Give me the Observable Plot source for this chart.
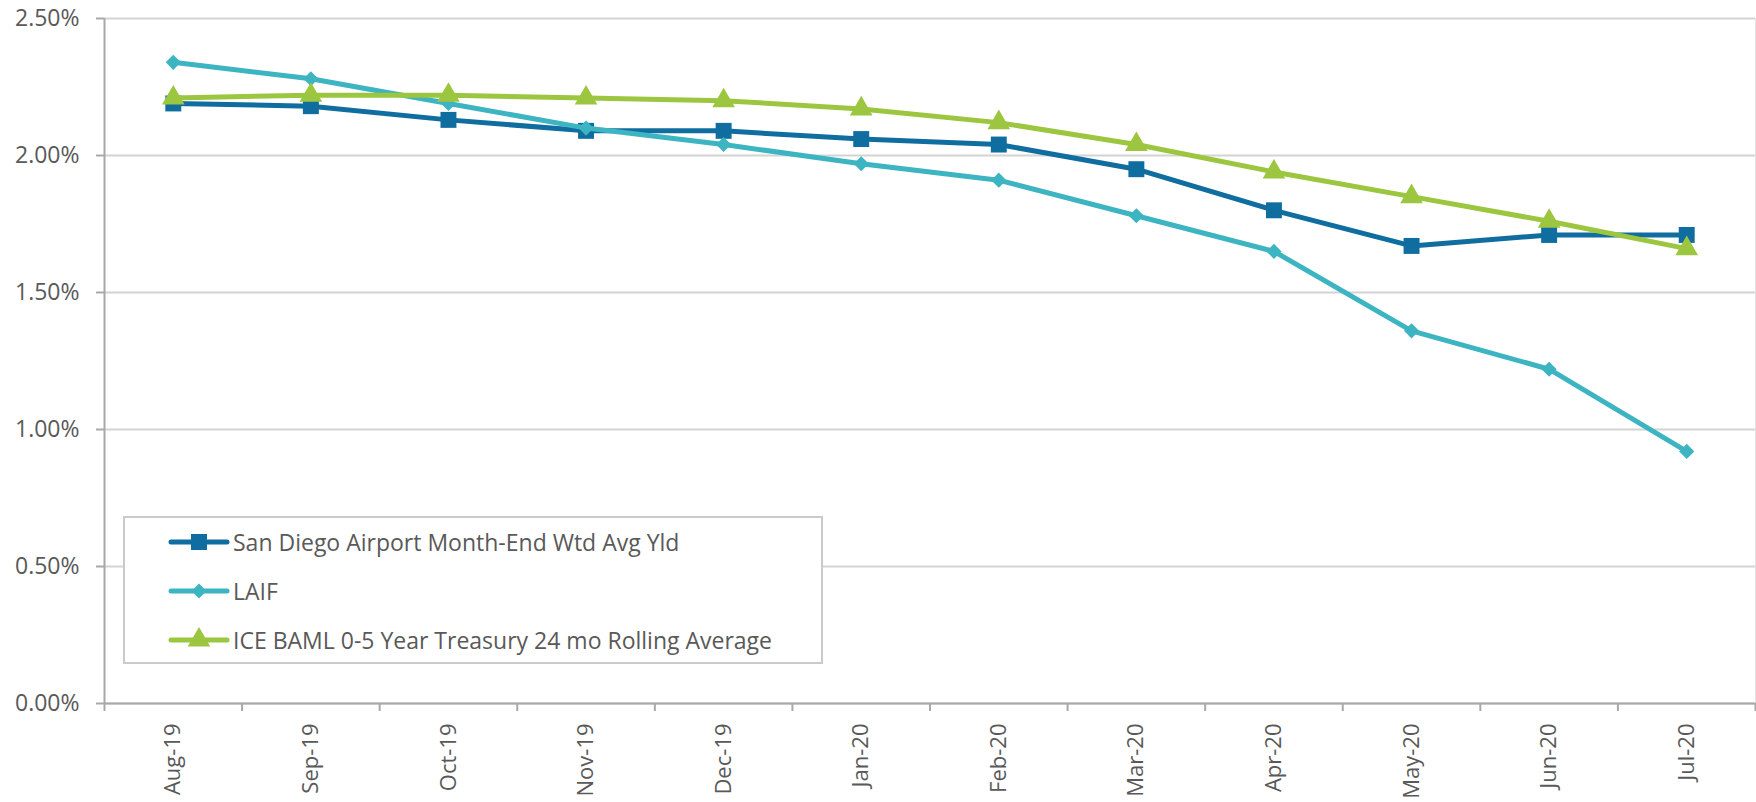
<!DOCTYPE html>
<html><head><meta charset="utf-8">
<script src="https://cdn.jsdelivr.net/npm/d3@7"></script>
<script src="https://cdn.jsdelivr.net/npm/@observablehq/plot@0.6"></script>
<style>
body{margin:0;background:#fff;}
#wrap{position:relative;width:1756px;height:802px;font-family:"Open Sans",sans-serif;}
#legend{position:absolute;left:123px;top:516px;width:700px;height:148px;box-sizing:border-box;border:2px solid #cacaca;background:#fff;}
.row{position:absolute;left:0;height:48px;display:flex;align-items:center;}
.row svg{margin-left:43px;display:block;}
.row span{font-size:23px;color:#595959;margin-left:3px;white-space:nowrap;line-height:1;}
</style></head><body><div id="wrap"></div>
<script>
const categories = ["Aug-19","Sep-19","Oct-19","Nov-19","Dec-19","Jan-20","Feb-20","Mar-20","Apr-20","May-20","Jun-20","Jul-20"];
const sanDiego = [2.19, 2.18, 2.13, 2.09, 2.09, 2.06, 2.04, 1.95, 1.80, 1.67, 1.71, 1.71];
const laif     = [2.34, 2.28, 2.19, 2.10, 2.04, 1.97, 1.91, 1.78, 1.65, 1.36, 1.22, 0.92];
const ice      = [2.21, 2.22, 2.22, 2.21, 2.20, 2.17, 2.12, 2.04, 1.94, 1.85, 1.76, 1.66];
const seriesNames = ["San Diego Airport Month-End Wtd Avg Yld", "LAIF", "ICE BAML 0-5 Year Treasury 24 mo Rolling Average"];
const seriesColors = ["#0f6e9f", "#3db4c1", "#9cc63f"];
const seriesSymbols = ["square", "diamond2", "triangle"];
const symbolR = [9, 6.8, 8.4];
const yTicks = [0, 0.5, 1.0, 1.5, 2.0, 2.5];

const seriesValues = [sanDiego, laif, ice];
const indices = categories.map((c, i) => i);
const boundaries = d3.range(categories.length + 1).map(i => i - 0.5);

const marks = [
  Plot.gridY(yTicks, {stroke: "#d3d3d3", strokeOpacity: 1, strokeWidth: 2}),
  Plot.ruleX([categories.length - 0.5], {stroke: "#e3e3e3", strokeWidth: 1}),
  Plot.ruleX([-0.5], {stroke: "#a8a8a8", strokeWidth: 2}),
  Plot.ruleY([0], {stroke: "#a8a8a8", strokeWidth: 2}),
  Plot.axisY(yTicks, {tickFormat: d => d.toFixed(2) + "%", tickSize: 8, tickPadding: 17, fontSize: 23, fill: "#595959", stroke: "#a8a8a8", strokeWidth: 2, label: null}),
  Plot.axisX(boundaries, {tickSize: 8, tickFormat: () => "", stroke: "#a8a8a8", strokeWidth: 2, label: null}),
  Plot.axisX(indices, {tickSize: 0, tickPadding: 20, tickRotate: -90, tickFormat: i => categories[i], fontSize: 22, fill: "#595959", label: null})
];
seriesValues.forEach((vals, s) => {
  const recs = vals.map((v, i) => ({i, v}));
  marks.push(Plot.line(recs, {x: "i", y: "v", stroke: seriesColors[s], strokeWidth: 5, strokeLinecap: "round", strokeLinejoin: "round"}));
  marks.push(Plot.dot(recs, {x: "i", y: "v", symbol: () => seriesSymbols[s], r: symbolR[s], fill: seriesColors[s], stroke: "none"}));
});

const chart = Plot.plot({
  width: 1756, height: 802,
  marginLeft: 104, marginRight: 1, marginTop: 18, marginBottom: 99,
  style: {fontFamily: "'Open Sans', sans-serif", background: "#fff", overflow: "visible"},
  x: {type: "linear", domain: [-0.5, categories.length - 0.5]},
  y: {domain: [0, 2.5]},
  symbol: {type: "identity"},
  marks
});
const wrap = document.getElementById("wrap");
wrap.appendChild(chart);

// legend
const legend = document.createElement("div");
legend.id = "legend";
const symPath = {
  square: d3.symbol(d3.symbolSquare, 256)(),
  diamond2: d3.symbol(d3.symbolDiamond2, 145)(),
  triangle: d3.symbol(d3.symbolTriangle, 220)()
};
seriesNames.forEach((name, s) => {
  const row = document.createElement("div");
  row.className = "row";
  row.style.top = (s * 49) + "px";
  row.innerHTML = `<svg width="62" height="26" viewBox="0 0 62 26"><line x1="3" y1="13" x2="59" y2="13" stroke="${seriesColors[s]}" stroke-width="5" stroke-linecap="round"/><path transform="translate(31,13)" d="${symPath[seriesSymbols[s]]}" fill="${seriesColors[s]}"/></svg><span>${name}</span>`;
  legend.appendChild(row);
});
wrap.appendChild(legend);
</script>
</body></html>
